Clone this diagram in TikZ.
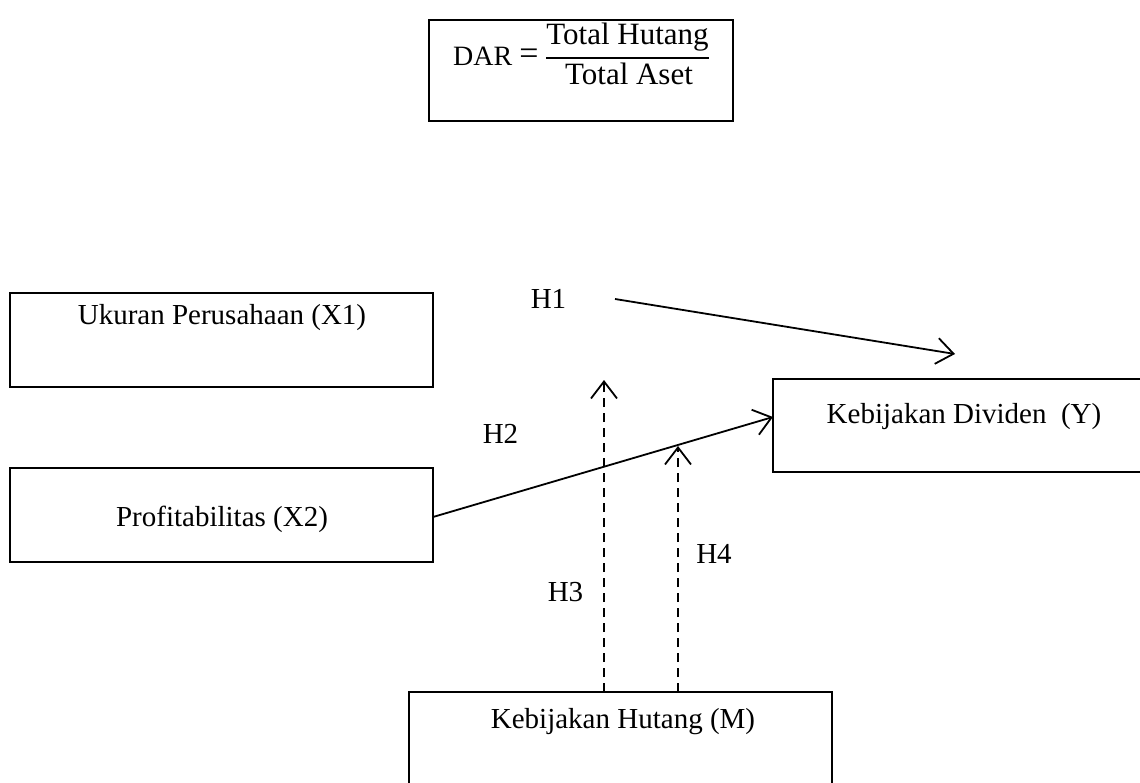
\documentclass[tikz,border=0pt]{standalone}
\usepackage{fontspec}
\setmainfont{Liberation Serif}
\usetikzlibrary{arrows.meta}
\begin{document}
\begin{tikzpicture}[x=1pt,y=-1pt,
  box/.style={draw, line width=1.3pt, inner sep=0pt, outer sep=0pt},
  lbl/.style={font=\fontsize{29}{34}\selectfont, inner sep=0pt, anchor=base},
  frm/.style={font=\fontsize{31}{36}\selectfont, inner sep=0pt, anchor=base},
  arr/.style={line width=1.8pt, -{Straight Barb[length=17pt,width=26pt,line width=1.8pt]}},
  darr/.style={arr, dash pattern=on 9pt off 6pt}]
\useasboundingbox (0,0) rectangle (1140,783);
% formula box
\node[box, minimum width=304pt, minimum height=101pt] (dar) at (581,70.5) {};
\node[inner sep=0pt, anchor=base west, font=\fontsize{28}{34}\selectfont] (darlhs) at (453,66) {DAR};
\node[inner sep=0pt, font=\fontsize{34}{40}\selectfont] (eq) at (529,57) {=};
\node[frm] (num) at (627.5,45) {Total Hutang};
\node[frm] (den) at (629,85) {Total Aset};
\coordinate (fl) at (546,58);
\coordinate (fr) at (709,58);
\draw[line width=1.6pt] (fl) -- (fr);
% variable boxes
\node[box, minimum width=423pt, minimum height=94pt] (x1) at (221.5,340) {};
\node[box, minimum width=423pt, minimum height=94pt] (x2) at (221.5,515) {};
\node[box, minimum width=397pt, minimum height=93pt] (y) at (971.5,425.5) {};
\node[box, minimum width=423pt, minimum height=108pt] (m) at (620.5,746) {};
\node[lbl] (tx1) at (222,325) {Ukuran Perusahaan (X1)};
\node[lbl] (tx2) at (222,526) {Profitabilitas (X2)};
\node[lbl] (ty) at (964,423) {Kebijakan Dividen\ \ (Y)};
\node[lbl] (tm) at (623,728) {Kebijakan Hutang (M)};
% hypothesis labels
\node[lbl] (h1) at (548.5,309) {H1};
\node[lbl] (h2) at (500.5,443) {H2};
\node[lbl] (h3) at (565.5,601) {H3};
\node[lbl] (h4) at (714,563) {H4};
% connectors
\coordinate (h1s) at (615,299);
\coordinate (h1e) at (955,354);
\draw[arr] (h1s) -- (h1e);
\coordinate (x2e) at (x2.east |- 0,517);
\coordinate (yw) at (y.west |- 0,417);
\draw[arr] (x2e) -- (yw);
\coordinate (m3) at (604,692);
\coordinate (h3e) at (604,380);
\draw[darr] (m3) -- (h3e);
\coordinate (m4) at (678,692);
\coordinate (h4e) at (678,446);
\draw[darr] (m4) -- (h4e);
\end{tikzpicture}
\end{document}
